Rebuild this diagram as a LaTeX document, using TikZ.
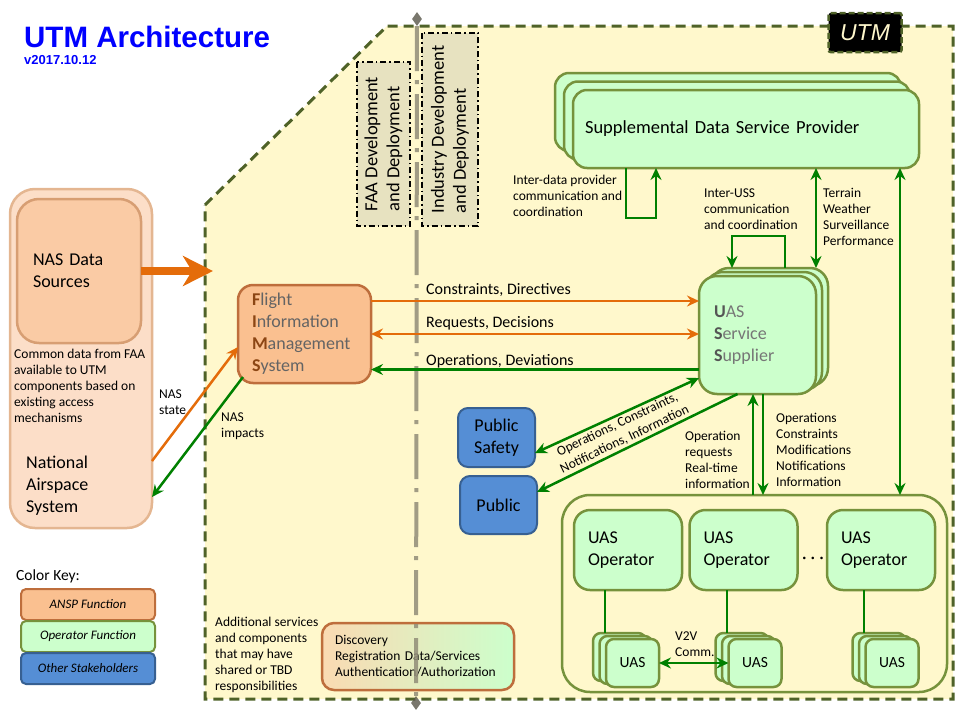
\documentclass[tikz,border=0pt]{standalone}
\usepackage{fontspec}
\setmainfont{Carlito}
\newfontfamily\titlefont{Liberation Sans}
\usepackage{tikz}
\usetikzlibrary{arrows.meta,positioning,shapes.geometric}
\definecolor{utmfill}{RGB}{255,248,204}
\definecolor{utmline}{RGB}{79,98,40}
\definecolor{anspfill}{RGB}{250,192,144}
\definecolor{anspline}{RGB}{190,110,60}
\definecolor{opfill}{RGB}{204,255,204}
\definecolor{opline}{RGB}{118,146,60}
\definecolor{stakefill}{RGB}{85,142,213}
\definecolor{stakeline}{RGB}{55,96,146}
\definecolor{nasfill}{RGB}{252,222,200}
\definecolor{nasline}{RGB}{228,182,145}
\definecolor{nasinner}{RGB}{250,203,165}
\definecolor{nasinline}{RGB}{215,158,115}
\definecolor{devfill}{RGB}{231,226,192}
\definecolor{divgray}{RGB}{145,141,120}
\definecolor{flowgreen}{RGB}{0,128,0}
\definecolor{floworange}{RGB}{228,108,10}
\definecolor{titleblue}{RGB}{0,0,255}
\definecolor{fimsinit}{RGB}{140,70,20}
\definecolor{fimsgray}{RGB}{100,100,100}
\definecolor{ussinit}{RGB}{85,85,85}
\definecolor{ussgray}{RGB}{118,118,118}
\definecolor{discleft}{RGB}{250,218,178}
\newcommand\notesize{\fontsize{13.5}{16}\selectfont}
\newcommand\linksize{\fontsize{16}{19}\selectfont}
\newcommand\boxsize{\fontsize{18}{22}\selectfont}
\tikzset{
  flowtip/.tip={Stealth[length=12pt,width=11pt,inset=4pt]},
  anspbox/.style={draw=anspline, fill=anspfill, line width=2.5pt, rounded corners=14pt, outer sep=0pt},
  opbox/.style={draw=opline, fill=opfill, line width=2.5pt, rounded corners=14pt, outer sep=0pt},
  stakebox/.style={draw=stakeline, fill=stakefill, line width=2pt, rounded corners=10pt,
    outer sep=0pt, font=\boxsize, align=center},
  devbox/.style={draw=black, fill=devfill, line width=2pt, rotate=90, align=left,
    dash pattern=on 6pt off 3pt on 1.5pt off 3pt, font=\fontsize{18.5}{22}\selectfont, outer sep=0pt},
  keybox/.style={line width=2pt, rounded corners=5pt, minimum width=134pt, minimum height=31pt,
    font=\fontsize{13}{15}\selectfont\itshape, outer sep=0pt},
  uasbox/.style={opbox, rounded corners=8pt, minimum width=53pt, minimum height=48pt,
    font=\fontsize{15.5}{18}\selectfont},
  note/.style={anchor=west, inner sep=0pt, align=left, font=\notesize},
  gflow/.style={-flowtip, line width=2.5pt, draw=flowgreen},
  gboth/.style={flowtip-flowtip, line width=2.5pt, draw=flowgreen},
  oflow/.style={-flowtip, line width=2.5pt, draw=floworange},
  oboth/.style={flowtip-flowtip, line width=2.5pt, draw=floworange},
  link/.style={line width=2.5pt, draw=flowgreen}
}

\begin{document}
\begin{tikzpicture}[x=1pt, y=-1pt]
\useasboundingbox (0,0) rectangle (960,720);

% UTM area
\fill[utmfill] (205,205) -- (387,26) -- (953,26) -- (953,699) -- (205,699) -- cycle;
\draw[utmline, line width=3pt, dash pattern=on 10pt off 6pt]
  (205,205) -- (387,26) -- (953,26) -- (953,699) -- (205,699) -- cycle;
\node[fill=black, draw=utmline, line width=2.5pt, dash pattern=on 6pt off 3pt, rounded corners=2pt,
  minimum width=73pt, minimum height=39pt, text=utmfill,
  font=\titlefont\itshape\fontsize{23}{26}\selectfont] (utmtag) at (865,32.5) {UTM};

% title
\node[anchor=west, inner sep=0pt, text=titleblue, font=\titlefont\bfseries\fontsize{29.5}{34}\selectfont]
  (title) at (24,37) {UTM Architecture};
\node[anchor=west, inner sep=0pt, text=titleblue, font=\titlefont\bfseries\fontsize{13}{15}\selectfont]
  (version) at (24,60) {v2017.10.12};

% development split
\node[devbox, minimum width=164pt, minimum height=53pt] (faa) at (383.5,144)
  {FAA Development\\and Deployment};
\node[devbox, minimum width=193pt, minimum height=56pt] (industry) at (450,129.5)
  {Industry Development\\and Deployment};

\node[draw=anspline, line width=2.5pt, rounded corners=12pt, left color=discleft, right color=opfill,
  minimum width=192pt, minimum height=67pt, text width=166pt, inner xsep=13pt, align=left,
  font=\notesize, outer sep=0pt] (disc) at (418,656.5)
  {Discovery\\Registration Data/Services\\Authentication/Authorization};
\node[note] (shared) at (215,655)
  {Additional services\\and components\\that may have\\shared or TBD\\responsibilities};

\node[diamond, fill=divgray!60!black, opacity=0.8, minimum width=10pt, minimum height=14pt,
  inner sep=0pt] (divtop) at (417,19) {};
\node[diamond, fill=divgray!60!black, opacity=0.8, minimum width=10pt, minimum height=14pt,
  inner sep=0pt] (divbot) at (416,703) {};
\draw[divgray, opacity=0.85, line width=4pt, dash pattern=on 45pt off 9pt on 4pt off 10pt]
  (divtop) -- (divbot);

% NAS side
\node[draw=nasline, fill=nasfill, line width=2.5pt, rounded corners=25pt, minimum width=142pt,
  minimum height=339pt, outer sep=0pt] (nas) at (81,358.5) {};
\node[draw=nasinline, fill=nasinner, line width=2.5pt, rounded corners=22pt, minimum width=124pt,
  minimum height=144pt, text width=92pt, inner xsep=16pt, align=left, font=\boxsize,
  outer sep=0pt] (nasdata) at (79,271) {NAS Data\\Sources};
\node[note] (nasnote) at (14,385.5)
  {Common data from FAA\\available to UTM\\components based on\\existing access\\mechanisms};
\node[note, font=\boxsize] (nasname) at (26,486) {National\\Airspace\\System};
\coordinate (utmedge) at (213,271);
\draw[floworange, line width=8pt, -{Stealth[length=30pt,width=30pt,inset=9pt]}] (nasdata.east) -- (utmedge);

% FIMS
\node[anspbox, rounded corners=15pt, minimum width=133pt, minimum height=98pt, text width=105pt,
  inner xsep=14pt, align=left, font=\boxsize, text=fimsgray] (fims) at (304.5,334)
  {{\bfseries\color{fimsinit}F}light\\{\bfseries\color{fimsinit}I}nformation\\
   {\bfseries\color{fimsinit}M}anagement\\{\bfseries\color{fimsinit}S}ystem};
\draw[oflow] (nas.east |- 0,461) -- (fims.west |- 0,347);
\draw[gflow] ([shift={(5pt,6pt)}]fims.south west) -- (nas.east |- 0,497);
\node[note] (nasstate) at (159,402) {NAS\\state};
\node[note] (nasimpacts) at (221,426) {NAS\\impacts};

% SDSP
\node[opbox, minimum width=346pt, minimum height=78pt] (sdsp3) at (728,112) {};
\node[opbox, minimum width=346pt, minimum height=78pt] (sdsp2) at (737,120.5) {};
\node[opbox, minimum width=346pt, minimum height=78pt, text width=322pt, inner xsep=12pt,
  align=left, font=\fontsize{18.5}{22}\selectfont] (sdsp) at (746,129)
  {Supplemental Data Service Provider};

% USS
\node[opbox, rounded corners=18pt, minimum width=117pt, minimum height=118pt] (uss3) at (769.5,327) {};
\node[opbox, rounded corners=18pt, minimum width=117pt, minimum height=118pt] (uss2) at (763.5,331) {};
\node[opbox, rounded corners=18pt, minimum width=117pt, minimum height=118pt, text width=87pt,
  inner xsep=15pt, align=left, font=\boxsize, text=ussgray] (uss) at (757.5,335)
  {{\bfseries\color{ussinit}U}AS\\{\bfseries\color{ussinit}S}ervice\\{\bfseries\color{ussinit}S}upplier};

\draw[oflow] (fims.east |- 0,301) -- (uss.west |- 0,301);
\draw[oboth] (fims.east |- 0,334) -- (uss.west |- 0,334);
\draw[gflow] (uss.west |- 0,369.5) -- (fims.east |- 0,369.5);
\node[note, font=\linksize] (cdlabel) at (426,290) {Constraints, Directives};
\node[note, font=\linksize] (rdlabel) at (426,323) {Requests, Decisions};
\node[note, font=\linksize] (odlabel) at (426,361) {Operations, Deviations};

% public
\node[stakebox, minimum width=77pt, minimum height=59pt] (psafety) at (496.5,437.5) {Public\\Safety};
\node[stakebox, minimum width=77pt, minimum height=58pt] (public) at (498.5,505) {Public};
\draw[gboth] (psafety.east |- 0,453) -- (uss.west |- 0,378);
\draw[gflow] ([xshift=-20pt]uss.south) -- (public.east |- 0,492);
\node[note, anchor=center, align=center, rotate=25.5, font=\fontsize{13.5}{16.5}\selectfont]
  (publabel) at (621,432) {Operations, Constraints,\\Notifications, Information};

% operators
\node[draw=opline, fill=utmfill, line width=2.5pt, rounded corners=28pt, minimum width=385pt,
  minimum height=197pt, outer sep=0pt] (opsbox) at (754.5,593.5) {};
\foreach \i/\x in {1/628,2/743.5,3/881}
  \node[opbox, rounded corners=16pt, minimum width=108pt, minimum height=80pt, text width=80pt,
    inner xsep=14pt, align=left, font=\boxsize] (op\i) at (\x,550) {UAS\\Operator};
\node[font=\boxsize, inner sep=0pt] (dots) at (813,560) {· · ·};
\foreach \i/\x in {1/632.5,2/755,3/892} {
  \node[uasbox] (uas\i c) at (\x-13,657) {};
  \node[uasbox] (uas\i b) at (\x-6.5,660) {};
  \node[uasbox] (uas\i) at (\x,663) {UAS};
}
\draw[link] (op1.south -| 605,0) -- (uas1c.north -| 605,0);
\draw[link] (op2.south -| 727,0) -- (uas2c.north -| 727,0);
\draw[link] (op3.south -| 864,0) -- (uas3c.north -| 864,0);
\draw[gboth] (uas1.east) -- (uas2.west);
\node[note] (v2v) at (675,644) {V2V\\Comm.};

% USS links
\draw[gflow] (opsbox.north -| 753,0) -- (uss.south -| 753,0);
\draw[gflow] (uss.south -| 763,0) -- (opsbox.north -| 763,0);
\node[note] (reqlabel) at (685,460) {Operation\\requests\\Real-time\\information};
\node[note] (infolabel) at (776,450)
  {Operations\\Constraints\\Modifications\\Notifications\\Information};
\draw[gboth] (sdsp.south -| 816,0) -- (uss3.north -| 816,0);
\draw[gboth] (sdsp.south -| 900,0) -- (opsbox.north -| 900,0);
\node[note] (sdsplabel) at (823,217) {Terrain\\Weather\\Surveillance\\Performance};
\draw[gflow] (sdsp.south -| 626,0) |- (656,218) -- (sdsp.south -| 656,0);
\node[note] (interdata) at (513,196) {Inter-data provider\\communication and\\coordination};
\draw[gflow] (uss3.north -| 785,0) |- (732,236) -- (uss3.north -| 732,0);
\node[note] (interuss) at (704,209.5) {Inter-USS\\communication\\and coordination};

% color key
\node[anchor=west, inner sep=0pt, font=\fontsize{15.5}{18}\selectfont] (keytitle) at (16,576) {Color Key:};
\node[keybox, draw=anspline, fill=anspfill] (keyansp) at (88,604.5) {ANSP Function};
\node[keybox, draw=opline, fill=opfill] (keyop) at (88,636.5) {Operator Function};
\node[keybox, draw=stakeline, fill=stakefill] (keyother) at (88,668.5) {Other Stakeholders};
\end{tikzpicture}
\end{document}
